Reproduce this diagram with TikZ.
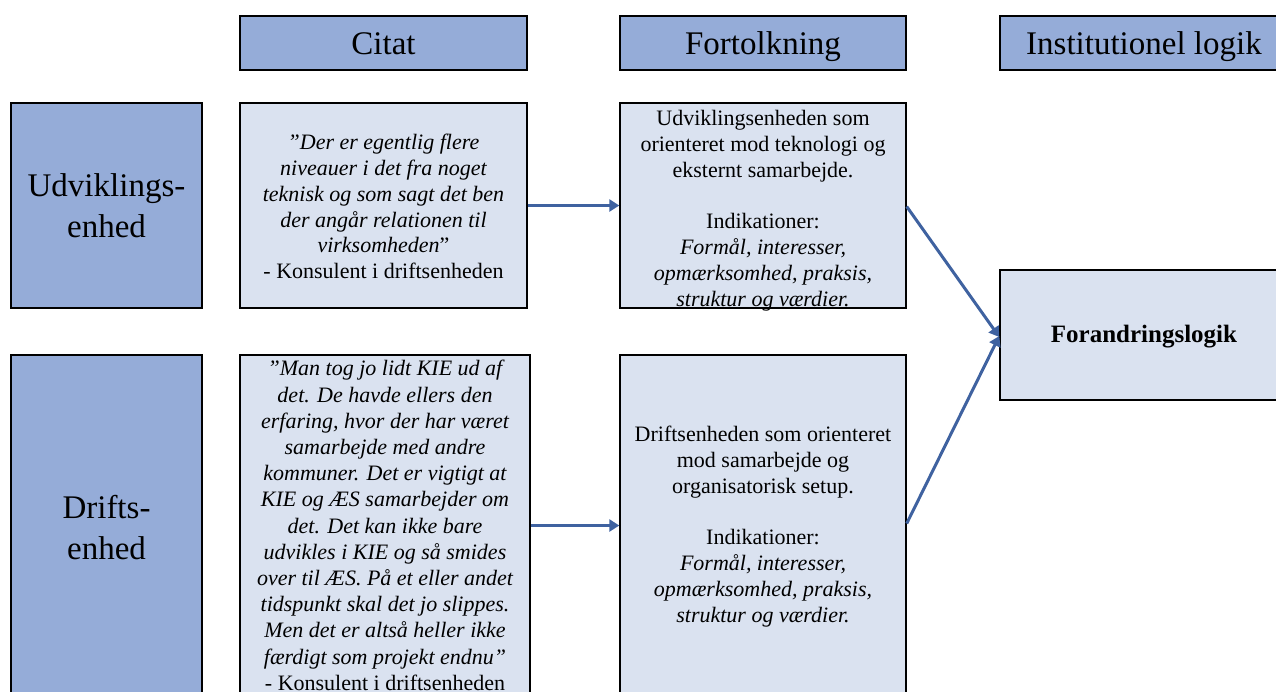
\documentclass[tikz,border=0pt]{standalone}
\usepackage{fontspec}
\setmainfont{Liberation Serif}
\usetikzlibrary{arrows.meta}
\definecolor{headblue}{HTML}{95ACD8}
\definecolor{paleblue}{HTML}{DAE2F0}
\definecolor{arrowblue}{HTML}{3F62A0}

\begin{document}
\begin{tikzpicture}[x=1pt,y=-1pt,
  box/.style={draw=black, line width=1.4pt, inner sep=0pt, align=center},
  head/.style={box, fill=headblue, minimum height=54pt, text height=22pt, text depth=0pt,
    font=\fontsize{33}{38}\selectfont},
  side/.style={box, fill=headblue, minimum width=191pt, font=\fontsize{33}{41}\selectfont},
  cell/.style={box, fill=paleblue},
  txt/.style={inner sep=0pt, align=center, font=\fontsize{22}{25.8}\selectfont},
  arr/.style={draw=arrowblue, line width=3pt, -{Triangle[length=10pt,width=12pt]}}]

\useasboundingbox (0,0) rectangle (1276,691);
\clip (0,0) rectangle (1276,691);

% column headings
\node[head, minimum width=287pt] (hcitat) at (383.5,43) {Citat};
\node[head, minimum width=286pt] (hfort) at (763,43) {Fortolkning};
\node[head, minimum width=288pt] (hinst) at (1144,43) {Institutionel logik};

% row headings
\node[side, minimum height=205pt] (udv) at (106.5,205.5) {Udviklings-\\enhed};
\node[side, minimum height=345pt] (drift) at (106.5,527.5) {Drifts-\\enhed};

% boxes
\node[cell, minimum width=287pt, minimum height=205pt] (q1) at (383.5,205.5) {};
\node[cell, minimum width=290pt, minimum height=345pt] (q2) at (385,527.5) {};
\node[cell, minimum width=286pt, minimum height=205pt] (f1) at (763,205.5) {};
\node[cell, minimum width=286pt, minimum height=345pt] (f2) at (763,527.5) {};
\node[cell, minimum width=288pt, minimum height=130pt] (logik) at (1144,335) {};

% quotes
\node[txt] (q1t) at ([yshift=-1pt]q1.center)
  {\itshape ”Der er egentlig flere\\
   \itshape niveauer i det fra noget\\
   \itshape teknisk og som sagt det ben\\
   \itshape der angår relationen til\\
   \itshape virksomheden\upshape ”\\
   - Konsulent i driftsenheden};
\node[txt, font=\fontsize{22}{26.2}\selectfont] (q2t) at ([yshift=2pt]q2.center)
  {\itshape ”Man tog jo lidt KIE ud af\\
   \itshape det. De havde ellers den\\
   \itshape erfaring, hvor der har været\\
   \itshape samarbejde med andre\\
   \itshape kommuner. Det er vigtigt at\\
   \itshape KIE og ÆS samarbejder om\\
   \itshape det. Det kan ikke bare\\
   \itshape udvikles i KIE og så smides\\
   \itshape over til ÆS. På et eller andet\\
   \itshape tidspunkt skal det jo slippes.\\
   \itshape Men det er altså heller ikke\\
   \itshape færdigt som projekt endnu”\\
   - Konsulent i driftsenheden};

% interpretations
\node[txt] (f1t) at ([yshift=-5pt]f1.center)
  {Udviklingsenheden som\\
   orienteret mod teknologi og\\
   eksternt samarbejde.\\[25.8pt]
   Indikationer:\\
   \itshape Formål, interesser,\\
   \itshape opmærksomhed, praksis,\\
   \itshape struktur og værdier.};
\node[txt] (f2t) at ([yshift=1pt]f2.center)
  {Driftsenheden som orienteret\\
   mod samarbejde og\\
   organisatorisk setup.\\[25.8pt]
   Indikationer:\\
   \itshape Formål, interesser,\\
   \itshape opmærksomhed, praksis,\\
   \itshape struktur og værdier.};

% institutional logic
\node[txt, font=\fontsize{25}{29}\selectfont\bfseries] (logikt) at ([yshift=-2pt]logik.center) {Forandringslogik};

% connectors
\draw[arr] (q1.east) -- (f1.west);
\draw[arr] ([yshift=2pt]q2.east) -- ([yshift=2pt]f2.west);
\draw[arr] ([yshift=-1pt]f1.east) -- ([yshift=-2pt]logik.west);
\draw[arr] ([yshift=4pt]f2.east) -- ([yshift=-1pt]logik.west);
\end{tikzpicture}
\end{document}
